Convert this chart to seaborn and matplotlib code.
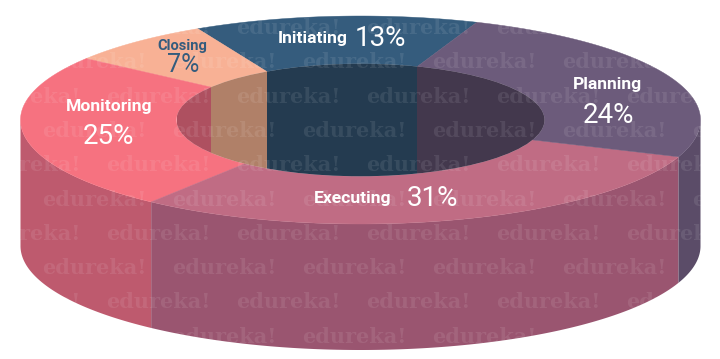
import numpy as np
import matplotlib
matplotlib.use("Agg")
import matplotlib.pyplot as plt
from matplotlib.patches import Ellipse
import seaborn as sns

# phases as printed
phases = ["Initiating", "Closing", "Monitoring", "Executing", "Planning"]
printed = [13, 7, 25, 31, 24]
# share of the ring each slice really takes up in the drawing
shares = [13.5, 7.0, 24.5, 29.8, 25.2]
# the slice lines are not quite radial, degrees they lean by at the hole
lean = [2.0, 2.0, 0.5, -1.0, 0.0, 2.0]

top_colors = ["#355C7D", "#F8B195", "#F67280", "#C06C84", "#6C5B7B"]
side_colors = ["#2B4A65", "#C08C78", "#BE5A6E", "#9A5570", "#5B4C68"]
wall_colors = ["#243B50", "#B08068", "#AE5060", "#8A4A60", "#43384D"]

W, H = 720, 359
cx, cy = 360.5, 120
rx, ry = 340, 104
inner = 184 / 340
depth = 126 / ry
start = 70

sns.set_theme(style="white")
fig = plt.figure(figsize=(W / 100, H / 100), dpi=100)
ax = fig.add_axes([0, 0, 1, 1])

# slice limits in degrees, counter clockwise from the start angle
edges = start + np.cumsum([0] + shares) * 3.6
hole_edges = edges + np.array(lean)

# outer side, only the part facing front
for i, col in enumerate(side_colors):
    a0, a1 = max(edges[i], 180), min(edges[i + 1], 360)
    if edges[i] > 360:
        a0, a1 = edges[i] - 360, edges[i + 1] - 360
    if a1 <= a0:
        continue
    t = np.radians(np.linspace(a0, a1, 200))
    xs = np.cos(t)
    ys = np.sin(t)
    ax.fill(np.r_[xs, xs[::-1]], np.r_[ys, ys[::-1] - depth], color=col, lw=0, zorder=1)

# top ring
for i, col in enumerate(top_colors):
    t = np.radians(np.linspace(edges[i], edges[i + 1], 200))
    u = np.radians(np.linspace(hole_edges[i + 1], hole_edges[i], 200))
    ax.fill(np.r_[np.cos(t), inner * np.cos(u)], np.r_[np.sin(t), inner * np.sin(u)],
            color=col, lw=0.3, zorder=2)

# hole: back wall of the ring, split where the slices meet it
hole = Ellipse((0, 0), 2 * inner, 2 * inner, fc="none", ec="none", zorder=3)
ax.add_patch(hole)
splits = inner * np.cos(np.radians(hole_edges[:3]))
ax.axvspan(-inner, splits[2], color=wall_colors[2], lw=0, zorder=3).set_clip_path(hole)
ax.axvspan(splits[2], splits[1], color=wall_colors[1], lw=0, zorder=3).set_clip_path(hole)
ax.axvspan(splits[1], splits[0], color=wall_colors[0], lw=0, zorder=3).set_clip_path(hole)
ax.axvspan(splits[0], inner, color=wall_colors[4], lw=0, zorder=3).set_clip_path(hole)

ax.set_aspect("auto")
ax.set_xlim(-cx / rx, (W - cx) / rx)
ax.set_ylim((cy - H) / ry, cy / ry)
ax.set_axis_off()
sns.despine(ax=ax, left=True, bottom=True)


def px(x, y):
    return x / W, 1 - y / H


# watermark, white so it only shows on the chart
for r in range(10):
    y = 28 + r * 34.3
    x0 = 106 if r % 2 == 0 else 42
    for k in range(-1, 6):
        x = x0 + k * 130
        if x > 700 or x + 102 < 21:
            continue
        fx, fy = px(x, y)
        fig.text(fx, fy, "edureka!", color="white", alpha=0.09, family="DejaVu Serif",
                 fontweight="bold", fontsize=15, ha="left", va="center", zorder=5)

name_pos = [(313, 39), (182, 46), (109, 107), (353, 199), (607, 85)]
num_pos = [(380, 39), (183, 65), (109, 137), (433, 198), (608, 115)]
name_size = [12.6, 10.5, 12.6, 12.6, 12.6]
num_size = [20, 18, 20, 20, 20]
text_cols = ["white", "#355C7D", "white", "white", "white"]

for i, name in enumerate(phases):
    fig.text(*px(*name_pos[i]), name, color=text_cols[i], family="Roboto", fontweight="bold",
             fontsize=name_size[i], ha="center", va="center", zorder=6)
    fig.text(*px(*num_pos[i]), f"{printed[i]}%", color=text_cols[i], family="Roboto",
             fontweight="normal", fontsize=num_size[i], ha="center", va="center", zorder=6)

fig.savefig("out.png", dpi=100, facecolor="white")
